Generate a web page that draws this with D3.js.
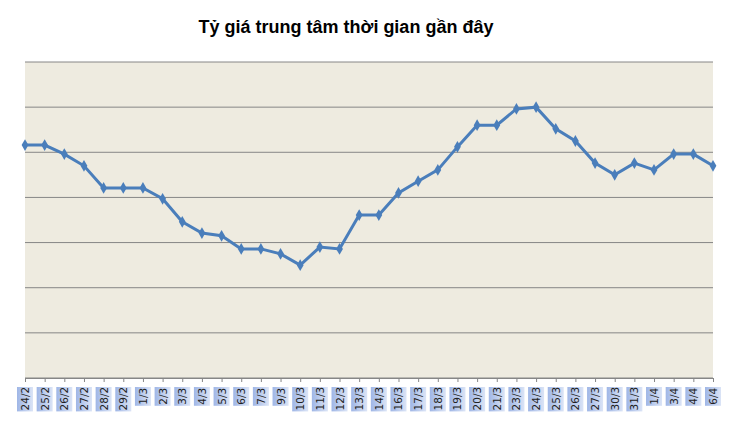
<!DOCTYPE html>
<html><head><meta charset="utf-8">
<script src="https://cdn.jsdelivr.net/npm/d3@7"></script>
<style>body{margin:0;background:#fff}</style>
</head><body>
<svg id="chart" width="732" height="427"></svg>
<script>
var dates = ["24/2","25/2","26/2","27/2","28/2","29/2","1/3","2/3","3/3","4/3","5/3","6/3","7/3","9/3","10/3","11/3","12/3","13/3","14/3","16/3","17/3","18/3","19/3","20/3","21/3","23/3","24/3","25/3","26/3","27/3","30/3","31/3","1/4","3/4","4/4","6/4"];
var rates = [5.16,5.16,4.96,4.70,4.21,4.21,4.21,3.97,3.46,3.21,3.15,2.86,2.86,2.75,2.50,2.90,2.86,3.61,3.61,4.10,4.36,4.61,5.12,5.60,5.60,5.96,6.00,5.52,5.25,4.76,4.50,4.76,4.61,4.96,4.96,4.70];
var gridVals = [0,1,2,3,4,5,6,7];

var svg = d3.select("#chart");
var plotLeft = 25, plotRight = 713, plotTop = 62, plotBottom = 378;

var x = d3.scalePoint().domain(dates).range([plotLeft, plotRight]);
var y = d3.scaleLinear().domain([0, 7]).range([plotBottom, plotTop]);

svg.append("text").attr("x", 346).attr("y", 33).attr("text-anchor", "middle")
  .attr("font-family", "Liberation Sans, Arial, sans-serif").attr("font-weight", "bold")
  .attr("font-size", 18).text("Tỷ giá trung tâm thời gian gần đây");

svg.append("rect").attr("x", plotLeft).attr("y", plotTop)
  .attr("width", plotRight - plotLeft).attr("height", plotBottom - plotTop)
  .attr("fill", "#eeebe0");

svg.selectAll(".grid").data(gridVals).enter().append("line")
  .attr("x1", plotLeft).attr("x2", plotRight)
  .attr("y1", function(d){ return y(d); }).attr("y2", function(d){ return y(d); })
  .attr("stroke", "#868686").attr("stroke-width", 1);

// label boxes
var grad = svg.append("defs").append("linearGradient").attr("id", "lab")
  .attr("x1", 0).attr("x2", 1).attr("y1", 0).attr("y2", 0);
grad.append("stop").attr("offset", 0).attr("stop-color", "#9fb6e6");
grad.append("stop").attr("offset", 1).attr("stop-color", "#dbe4f6");

var ax = svg.append("g").attr("transform", "translate(0," + plotBottom + ")")
  .call(d3.axisBottom(x).tickSize(4).tickFormat(""));
ax.select(".domain").attr("stroke", "#868686");
ax.selectAll(".tick line").attr("stroke", "#868686");

var labs = svg.selectAll(".lab").data(dates).enter().append("g")
  .attr("transform", function(d){ return "translate(" + x(d) + ",387)"; });
labs.append("rect")
  .attr("x", -8).attr("y", 0).attr("width", 16)
  .attr("height", function(d){ return d.length * 5.6 + 2; })
  .attr("fill", "url(#lab)");
labs.append("text")
  .attr("transform", function(d){ return "translate(4," + (d.length * 5.6 + 1) + ") rotate(-90)"; })
  .attr("font-family", "DejaVu Sans, sans-serif").attr("font-size", 10.5).attr("fill", "#222")
  .text(function(d){ return d; });

var line = d3.line().x(function(d, i){ return x(dates[i]); }).y(function(d){ return y(d); });
svg.append("path").datum(rates).attr("d", line)
  .attr("fill", "none").attr("stroke", "#4a7ebb").attr("stroke-width", 3);
svg.selectAll(".pt").data(rates).enter().append("path")
  .attr("d", d3.symbol().type(d3.symbolDiamond).size(40))
  .attr("transform", function(d, i){ return "translate(" + x(dates[i]) + "," + y(d) + ")"; })
  .attr("fill", "#4a7ebb");
</script>
</body></html>
